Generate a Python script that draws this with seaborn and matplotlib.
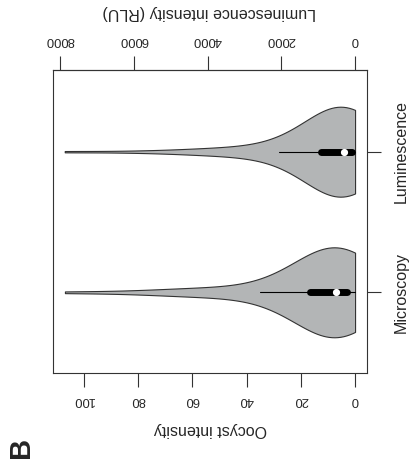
import numpy as np
import pandas as pd
import matplotlib
matplotlib.use("Agg")
import matplotlib.pyplot as plt
import seaborn as sns

sns.set_style("ticks")
plt.rcParams['font.family'] = ['Liberation Sans', 'DejaVu Sans']

# microscopy: oocysts per midgut (value, number of mosquitoes)
micro_values = [0, 1, 2, 3, 4, 5, 6, 7, 9, 11, 13, 16, 19, 23, 28, 35, 42, 50, 58, 66, 75, 88, 107]
micro_counts = [10, 6, 5, 5, 5, 5, 6, 9, 6, 6, 6, 6, 4, 4, 3, 3, 2, 2, 2, 2, 1, 1, 1]

# luminescence: RLU per midgut (value, number of mosquitoes)
lum_values = [0, 75, 150, 220, 295, 440, 590, 735, 880, 1100, 1400, 1760, 2060,
              2500, 3000, 3600, 4200, 5000, 6000, 7870]
lum_counts = [14, 12, 9, 8, 8, 6, 6, 6, 6, 4, 4, 3, 3, 2, 2, 2, 2, 1, 1, 1]

categories = ["Luminescence", "Microscopy"]
oocyst_ticks = [0, 20, 40, 60, 80, 100]
rlu_ticks = [0, 2000, 4000, 6000, 8000]
RLU_PER_OOCYST = 73.5


def to_rlu(x):
    return x * RLU_PER_OOCYST


def to_oocyst(x):
    return x / RLU_PER_OOCYST


df = pd.concat([
    pd.DataFrame({"method": "Microscopy",
                  "intensity": np.repeat(micro_values, micro_counts).astype(float)}),
    pd.DataFrame({"method": "Luminescence",
                  "intensity": to_oocyst(np.repeat(lum_values, lum_counts).astype(float))}),
])

edge = "#333333"
fig = plt.figure(figsize=(4.14, 4.65), dpi=100)
ax = fig.add_axes([53 / 414, 1 - 373 / 465, 314 / 414, 303 / 465])

sns.violinplot(data=df, x="intensity", y="method", order=categories, orient="h",
               color="#b3b5b6", saturation=1, linecolor=edge, linewidth=0.8,
               cut=0, width=0.64, density_norm="width", bw_adjust=1.7,
               inner="box",
               inner_kws=dict(box_width=5, whis_width=0.8, color="black", marker="o"),
               ax=ax)

ax.set_xlim(111.4, -4.4)
ax.set_ylim(1.574, -0.581)
ax.set_xticks(oocyst_ticks)
ax.set_ylabel("")
ax.yaxis.tick_right()
ax.tick_params(axis="x", length=10, width=0.8, color=edge, labelsize=9.4,
               labelrotation=180, pad=5)
ax.tick_params(axis="y", length=10, width=0.8, color=edge, labelsize=11.5, pad=9)
plt.setp(ax.get_yticklabels(), rotation=90, va="center")
for s in ax.spines.values():
    s.set_visible(True)
    s.set_color(edge)
    s.set_linewidth(0.8)

ax.set_xlabel("Oocyst intensity", rotation=180, fontsize=11.5, va="center")
ax.xaxis.set_label_coords(0.5, -0.188, transform=ax.transAxes)

sec = ax.secondary_xaxis("top", functions=(to_rlu, to_oocyst))
sec.set_xticks(rlu_ticks)
sec.tick_params(axis="x", length=10, width=0.8, color=edge, labelsize=9.4,
                labelrotation=180, pad=7.5)
sec.spines["top"].set_color(edge)
sec.spines["top"].set_linewidth(0.8)
sec.set_xlabel("Luminescence intensity (RLU)", rotation=180, fontsize=11.5, va="center")
sec.xaxis.set_label_coords(0.498, 1.19, transform=ax.transAxes)

fig.text(21.5 / 414, 1 - 447.5 / 465, "B", rotation=90, fontsize=21,
         fontweight="bold", ha="center", va="center")

fig.savefig("out.png", dpi=100)
